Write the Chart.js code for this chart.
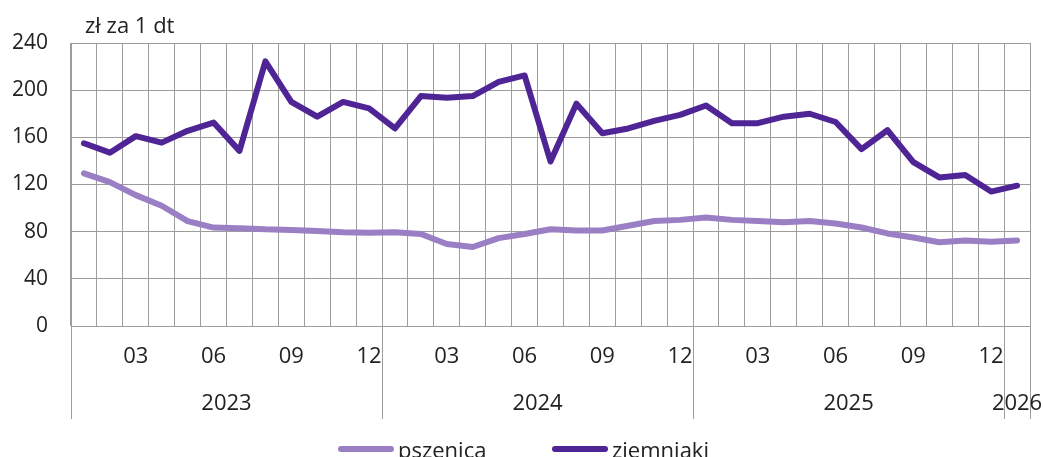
<!DOCTYPE html>
<html><head><meta charset="utf-8">
<script src="https://cdn.jsdelivr.net/npm/chart.js@4"></script>
<style>
html,body{margin:0;padding:0;background:#fff;overflow:hidden}
#wrap{position:relative;width:1043px;height:457px}
canvas{display:block}
.leg{position:absolute;top:434px;display:flex;align-items:center;font:22px 'Open Sans',sans-serif;color:#222;white-space:nowrap;line-height:30px}
.leg .sw{display:inline-block;width:56px;height:6px;border-radius:3px;margin-right:4px}
</style></head><body>
<div id="wrap">
<canvas id="c" width="1043" height="457"></canvas>
<div class="leg" style="left:338px"><span class="sw" style="background:#9b7fc4"></span>pszenica</div>
<div class="leg" style="left:552px"><span class="sw" style="background:#4f2596"></span>ziemniaki</div>
</div>
<script>
const months = ['01','02','03','04','05','06','07','08','09','10','11','12',
                '01','02','03','04','05','06','07','08','09','10','11','12',
                '01','02','03','04','05','06','07','08','09','10','11','12',
                '01'];
const years = [2023,2023,2023,2023,2023,2023,2023,2023,2023,2023,2023,2023,
               2024,2024,2024,2024,2024,2024,2024,2024,2024,2024,2024,2024,
               2025,2025,2025,2025,2025,2025,2025,2025,2025,2025,2025,2025,
               2026];
const shownMonths = ['03','06','09','12'];
const pszenica = [129.5,122,111,102,89,83.5,83,82,81.5,80.5,79.5,79,
                  79.5,78,69.5,67,74.5,78,82,81,81,85,89,90,
                  92,90,89,88,89,87,83.5,78.5,75,71,72.5,71.5,
                  72.5];
const ziemniaki = [155,147,161,155.5,165.5,172.5,148.5,224.5,190,177.5,190,184.5,
                   167.5,195,193.5,195,207,212.5,139.5,188.5,163.5,167.5,174,179,
                   187,172,172,177.5,180,173,150,166,139,126,128,114,
                   119];
const yTicks = [0,40,80,120,160,200,240];
const unitLabel = 'zł za 1 dt';

const labels = months.map((m,i)=>years[i]+'-'+m);
const gridColor = '#9d9d9d';
const textColor = '#222';
const fontFam = "'Open Sans', sans-serif";

const extras = {
  id:'extras',
  afterDraw(chart){
    const ctx = chart.ctx, x = chart.scales.x, area = chart.chartArea;
    ctx.save();
    ctx.fillStyle = textColor;
    ctx.font = "22px " + fontFam;
    ctx.textAlign = 'left';
    ctx.textBaseline = 'middle';
    ctx.fillText(unitLabel, area.left + 14, 27);
    ctx.strokeStyle = gridColor;
    ctx.lineWidth = 1;
    const bounds = [];
    years.forEach((y,i)=>{ if(i===0 || years[i-1]!==y) bounds.push(i); });
    bounds.push(years.length);
    bounds.forEach(b=>{
      const px = Math.round(x.getPixelForValue(b-0.5))+0.5;
      ctx.beginPath(); ctx.moveTo(px, area.bottom); ctx.lineTo(px, 419); ctx.stroke();
    });
    ctx.font = "22px " + fontFam;
    ctx.textAlign = 'center';
    for(let k=0;k<bounds.length-1;k++){
      const c = (bounds[k] + bounds[k+1]-1)/2;
      ctx.fillText(String(years[bounds[k]]), x.getPixelForValue(c), 404);
    }
    ctx.restore();
  }
};

new Chart(document.getElementById('c'), {
  type:'line',
  data:{
    labels: labels,
    datasets:[
      {label:'pszenica', data:pszenica, borderColor:'#9b7fc4', backgroundColor:'#9b7fc4',
       borderWidth:6, pointRadius:0, tension:0, borderJoinStyle:'round', borderCapStyle:'round'},
      {label:'ziemniaki', data:ziemniaki, borderColor:'#4f2596', backgroundColor:'#4f2596',
       borderWidth:6, pointRadius:0, tension:0, borderJoinStyle:'round', borderCapStyle:'round'}
    ]
  },
  options:{
    responsive:false,
    devicePixelRatio:1,
    animation:false,
    layout:{padding:{top:43,left:0,right:13,bottom:0}},
    plugins:{legend:{display:false}, tooltip:{enabled:false}},
    scales:{
      x:{
        type:'category',
        offset:true,
        grid:{offset:true, color:gridColor, lineWidth:1, drawTicks:false},
        border:{display:true, color:gridColor},
        ticks:{
          autoSkip:false, maxRotation:0, minRotation:0, padding:18,
          color:textColor, font:{family:fontFam, size:22},
          callback:function(v,i){ return shownMonths.includes(months[i]) ? months[i] : ''; }
        },
        afterFit:function(s){ s.height = 131; }
      },
      y:{
        min:0, max:240,
        afterBuildTicks:function(s){ s.ticks = yTicks.map(v=>({value:v})); },
        grid:{color:gridColor, lineWidth:1, drawTicks:false},
        border:{display:true, color:gridColor},
        ticks:{padding:23, color:textColor, font:{family:fontFam, size:21}},
        afterFit:function(s){ s.width = 71; }
      }
    }
  },
  plugins:[extras]
});
</script>
</body></html>
